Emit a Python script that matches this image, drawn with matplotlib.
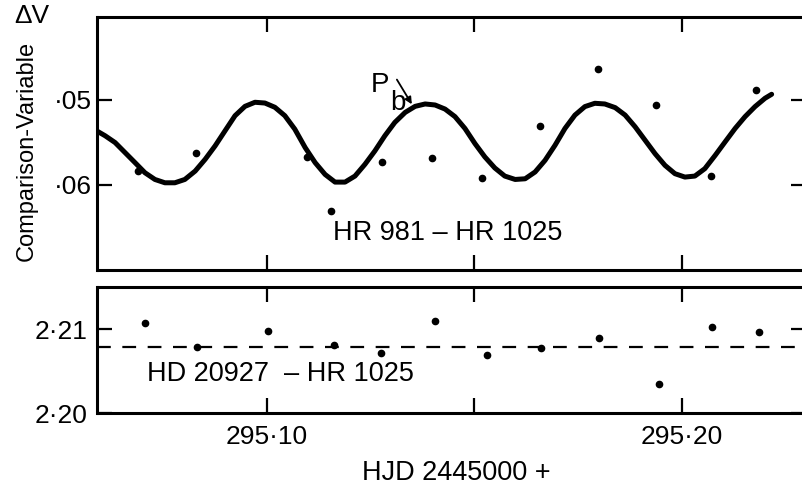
import numpy as np
import matplotlib
matplotlib.use("Agg")
import matplotlib.pyplot as plt

# HJD - 2445000 for the fitted curve
curve_t = [295.0592, 295.0610, 295.0634, 295.0658, 295.0682, 295.0706, 295.0730,
           295.0754, 295.0778, 295.0802, 295.0827, 295.0851, 295.0875, 295.0899,
           295.0923, 295.0947, 295.0971, 295.0995, 295.1019, 295.1043, 295.1067,
           295.1092, 295.1116, 295.1140, 295.1164, 295.1188, 295.1212, 295.1236,
           295.1260, 295.1284, 295.1308, 295.1333, 295.1357, 295.1381, 295.1405,
           295.1429, 295.1453, 295.1477, 295.1501, 295.1525, 295.1549, 295.1573,
           295.1598, 295.1622, 295.1646, 295.1670, 295.1694, 295.1718, 295.1742,
           295.1766, 295.1790, 295.1814, 295.1839, 295.1863, 295.1887, 295.1911,
           295.1935, 295.1959, 295.1983, 295.2007, 295.2031, 295.2055, 295.2080,
           295.2104, 295.2128, 295.2152, 295.2176, 295.2200, 295.2216]
curve_dv = [0.05370, 0.05421, 0.05501, 0.05619, 0.05737, 0.05856, 0.05935,
            0.05974, 0.05974, 0.05935, 0.05836, 0.05698, 0.05540, 0.05362,
            0.05185, 0.05075, 0.05027, 0.05036, 0.05086, 0.05185, 0.05343,
            0.05560, 0.05737, 0.05876, 0.05966, 0.05966, 0.05895, 0.05757,
            0.05599, 0.05421, 0.05264, 0.05146, 0.05075, 0.05047, 0.05059,
            0.05107, 0.05196, 0.05335, 0.05512, 0.05670, 0.05800, 0.05895,
            0.05935, 0.05927, 0.05847, 0.05710, 0.05533, 0.05335, 0.05178,
            0.05078, 0.05039, 0.05047, 0.05090, 0.05178, 0.05315, 0.05473,
            0.05631, 0.05769, 0.05867, 0.05907, 0.05895, 0.05808, 0.05651,
            0.05492, 0.05335, 0.05196, 0.05078, 0.04980, 0.04933]

# HR 981 - HR 1025 observations
var_t = [295.0689, 295.0829, 295.1096, 295.1154, 295.1277, 295.1398,
         295.1518, 295.1658, 295.1798, 295.1937, 295.2070, 295.2178]
var_dv = [0.0584, 0.0562, 0.0567, 0.0631, 0.0573, 0.0568,
          0.0592, 0.0531, 0.0464, 0.0506, 0.0589, 0.0488]

# HD 20927 - HR 1025 check star
chk_t = [295.0705, 295.0831, 295.1002, 295.1161, 295.1274, 295.1406,
         295.1529, 295.1661, 295.1801, 295.1945, 295.2072, 295.2185]
chk_dv = [2.2107, 2.2078, 2.2098, 2.2081, 2.2071, 2.2109,
          2.2069, 2.2077, 2.2089, 2.2035, 2.2102, 2.2096]
chk_mean = 2.2079

x_ticks = [295.10, 295.15, 295.20]
x_labels = ["295·10", "", "295·20"]
top_ticks = [0.05, 0.06]
top_labels = ["·05", "·06"]
bot_ticks = [2.20, 2.21]
bot_labels = ["2·20", "2·21"]

plt.rcParams["font.family"] = ["Liberation Sans", "DejaVu Sans"]
plt.rcParams["font.size"] = 19

fig = plt.figure(figsize=(8.03, 4.88), dpi=100)
W, H = 803.0, 488.0

def box(x0, y0, x1, y1):
    # pixel box (top-left origin) -> figure fraction
    return [x0 / W, 1 - y1 / H, (x1 - x0) / W, (y1 - y0) / H]

ax1 = fig.add_axes(box(97.5, 17, 806, 270))
ax2 = fig.add_axes(box(97.5, 287, 806, 413))

for ax in (ax1, ax2):
    for s in ax.spines.values():
        s.set_linewidth(2.2)
    ax.set_xlim(295.05916, 295.22988)
    ax.set_xticks(x_ticks)
    ax.tick_params(direction="in", length=11, width=1.6, top=True, right=True)

# top panel
ax1.plot(curve_t, curve_dv, color="black", lw=3.6, solid_capstyle="round",
         solid_joinstyle="round")
ax1.plot(var_t, var_dv, "o", color="black", ms=4.5)
ax1.set_ylim(0.07, 0.04024)
ax1.set_yticks(top_ticks)
ax1.set_yticklabels(top_labels)
ax1.set_xticklabels([])
ax1.tick_params(axis="y", pad=4)
ax1.text(295.1159, 0.0657, "HR 981 – HR 1025", ha="left", va="center",
         fontsize=19.5)
ax1.text(295.1251, 0.0482, "P", ha="left", va="center", fontsize=20)
ax1.text(295.1296, 0.0504, "b", ha="left", va="center", fontsize=20)
ax1.annotate("", xy=(295.1349, 0.0505), xytext=(295.1313, 0.0476),
             arrowprops=dict(arrowstyle="-|>", color="black", lw=1.3,
                             mutation_scale=10, shrinkA=0, shrinkB=0))

# bottom panel
ax2.axhline(chk_mean, color="black", lw=1.6, dashes=(6.2, 5.2))
ax2.plot(chk_t, chk_dv, "o", color="black", ms=4.5)
ax2.set_ylim(2.20, 2.2150)
ax2.set_yticks(bot_ticks)
ax2.set_yticklabels(bot_labels)
ax2.set_xticklabels(x_labels)
ax2.tick_params(axis="y", pad=7)
ax2.tick_params(axis="x", pad=9)
ax2.text(295.0711, 2.2046, "HD 20927  – HR 1025", ha="left", va="center",
         fontsize=19.5)

# axis titles
fig.text(32 / W, 1 - 16 / H, "ΔV", ha="center", va="center", fontsize=19)
fig.text(27 / W, 1 - 151 / H, "Comparison-Variable", rotation=90,
         ha="center", va="center", fontsize=17)
fig.text(456 / W, 1 - 473 / H, "HJD 2445000 +", ha="center", va="center",
         fontsize=19.5)

fig.savefig("out.png", dpi=100)
